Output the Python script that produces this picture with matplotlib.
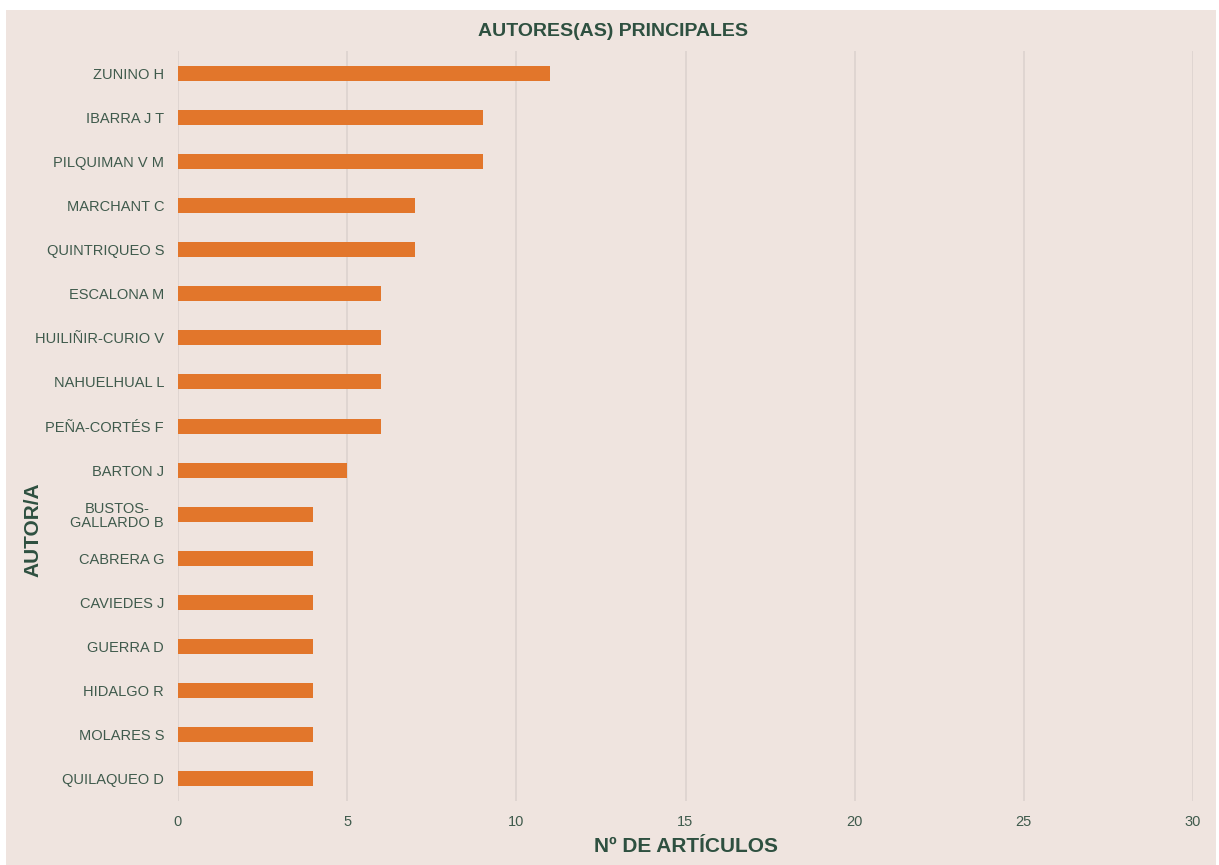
import matplotlib
matplotlib.use("Agg")
import matplotlib.pyplot as plt
from matplotlib.patches import Rectangle

autores = ["ZUNINO H", "IBARRA J T", "PILQUIMAN V M", "MARCHANT C", "QUINTRIQUEO S",
           "ESCALONA M", "HUILIÑIR-CURIO V", "NAHUELHUAL L", "PEÑA-CORTÉS F", "BARTON J",
           "BUSTOS-\nGALLARDO B", "CABRERA G", "CAVIEDES J", "GUERRA D", "HIDALGO R",
           "MOLARES S", "QUILAQUEO D"]
articulos = [11, 9, 9, 7, 7, 6, 6, 6, 6, 5, 4, 4, 4, 4, 4, 4, 4]
xticks = [0, 5, 10, 15, 20, 25, 30]

bg = "#EFE4DF"
green = "#2E5040"
tickc = "#3F5A4C"
orange = "#E2762B"

plt.rcParams['font.family'] = ['Liberation Sans', 'DejaVu Sans']

fig = plt.figure(figsize=(12.19, 8.65), dpi=100)
fig.patch.set_facecolor("white")
fig.patches.append(Rectangle((6/1219, 0), 1210/1219, 1 - 10/865, transform=fig.transFigure,
                             facecolor=bg, edgecolor="none", zorder=-10))

ax = fig.add_axes([178/1219, 64/865, 1015/1219, 750/865])
ax.set_zorder(1)
ax.patch.set_alpha(0)

y = list(range(len(autores)))
ax.barh(y, articulos, height=0.34, color=orange, zorder=3)
ax.set_ylim(len(autores) - 0.5, -0.5)
ax.set_xlim(0, 30)
ax.set_xticks(xticks)
ax.set_yticks(y)
ax.set_yticklabels(autores, fontsize=10.5, color=tickc, linespacing=1.0)
for lbl in ax.get_yticklabels():
    lbl.set_multialignment('center')
ax.set_xticklabels([str(t) for t in xticks], fontsize=10.5, color=tickc)
ax.tick_params(axis='both', length=0)
ax.tick_params(axis='y', pad=10)
ax.tick_params(axis='x', pad=10)
for s in ax.spines.values():
    s.set_visible(False)
ax.grid(axis='x', color="#DCD3CF", linewidth=1.2, zorder=0)
ax.set_axisbelow(True)

fig.text(613/1219, 1 - 31/865, "AUTORES(AS) PRINCIPALES", ha='center', va='center',
         fontsize=14, fontweight='bold', color=green)
fig.text(686/1219, 1 - 846/865, "Nº DE ARTÍCULOS", ha='center', va='center',
         fontsize=15, fontweight='bold', color=green)
fig.text(33/1219, 1 - 530/865, "AUTOR/A", ha='center', va='center', rotation=90,
         fontsize=15, fontweight='bold', color=green)

fig.savefig("out.png", dpi=100)
